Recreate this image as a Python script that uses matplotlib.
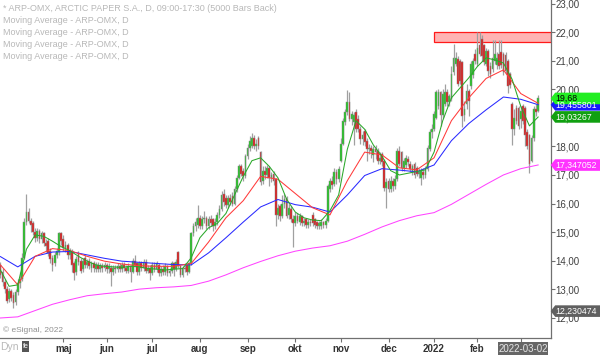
import numpy as np
import pandas as pd
import matplotlib
matplotlib.use("Agg")
import matplotlib.pyplot as plt
from matplotlib.patches import Polygon, Rectangle

plt.rcParams['font.family'] = ['Liberation Sans', 'DejaVu Sans']

# ---------------- data ----------------
start_date = "2021-03-19"
end_date = "2022-03-11"
holidays = ["2021-04-02", "2021-04-05", "2021-05-13", "2021-06-25",
            "2021-12-24", "2021-12-31", "2022-01-06"]

open_ = [
 13.85,13.60,13.25,13.00,12.65,12.95,12.80,12.55,12.90,13.20,
 13.35,14.10,15.35,15.70,15.40,15.30,15.00,14.80,15.05,14.75,
 14.95,14.60,14.70,14.35,14.10,13.90,14.20,14.30,14.95,14.75,
 14.45,14.55,14.20,14.35,13.90,13.60,14.25,14.00,13.70,14.10,
 13.85,14.00,13.75,13.90,13.70,13.85,13.70,13.80,13.75,13.85,
 13.70,13.75,13.60,13.75,13.70,13.80,13.70,13.85,13.75,13.65,
 13.80,13.60,14.00,13.90,13.60,13.90,13.75,13.95,13.65,13.75,
 13.55,13.85,13.70,13.85,13.55,13.70,13.60,13.80,13.55,13.65,
 13.90,13.70,14.30,13.80,13.50,13.75,13.85,13.60,13.90,14.95,
 15.20,15.25,15.50,15.20,15.45,15.50,15.20,15.45,15.45,15.20,
 15.35,15.60,15.80,16.35,16.20,15.95,16.20,16.25,16.00,16.50,
 16.90,17.30,17.15,16.95,17.65,17.95,18.00,18.30,18.00,18.30,
 17.80,16.80,17.15,17.00,17.25,16.90,17.05,16.85,15.60,15.90,
 15.55,16.00,16.20,15.60,15.80,15.45,15.30,15.55,15.35,15.55,
 15.30,15.45,15.25,15.35,15.60,15.45,15.35,15.20,15.20,15.35,
 15.25,15.40,16.50,16.80,16.70,17.10,16.85,17.50,18.10,18.85,
 19.20,19.55,18.95,18.85,19.20,18.95,18.60,18.25,18.55,18.20,
 17.90,17.95,17.70,17.90,17.85,17.50,17.75,17.50,16.55,16.80,
 16.50,16.80,16.60,16.85,17.85,17.80,17.25,17.35,17.55,17.40,
 17.10,17.40,17.25,17.05,16.90,17.10,17.00,17.20,17.90,18.50,
 18.60,19.00,19.40,19.90,19.10,19.50,19.90,19.55,19.65,20.60,
 20.90,21.05,21.00,20.95,19.10,19.50,19.95,20.10,20.50,21.25,
 20.90,21.55,21.75,21.55,20.90,21.35,20.80,20.70,21.00,20.85,
 21.25,21.30,21.25,21.20,21.00,20.55,19.50,18.60,19.35,19.35,
 18.95,19.40,19.35,18.50,18.40,17.50,18.30,19.30,19.25]
high = [
 13.95,13.75,13.35,13.10,13.05,13.00,12.90,13.00,13.35,13.60,
 14.25,15.50,16.33,15.85,15.50,15.40,15.15,15.15,15.10,15.05,
 15.00,14.75,14.80,14.45,14.20,14.30,14.45,15.00,15.00,14.90,
 14.70,14.60,14.45,14.40,14.00,14.15,14.35,14.10,14.10,14.20,
 14.05,14.10,14.00,14.00,13.95,13.95,13.90,13.90,13.95,13.90,
 13.90,13.85,13.85,13.85,13.90,13.90,13.95,13.95,13.85,13.90,
 13.85,14.10,14.20,13.95,14.00,14.00,14.05,14.05,13.85,13.85,
 13.95,13.95,14.00,13.90,13.80,13.85,13.90,13.85,13.75,14.00,
 13.95,14.05,14.35,13.85,13.80,13.90,13.90,13.95,15.00,15.30,
 15.50,15.95,15.60,15.55,15.75,15.55,15.55,15.60,15.50,15.50,
 15.70,15.95,16.45,16.50,16.30,16.30,16.35,16.40,16.60,17.00,
 17.40,17.40,17.25,17.75,18.10,18.35,18.48,18.40,18.25,18.35,
 17.85,17.30,17.30,17.35,17.30,17.10,17.15,16.90,16.00,16.00,
 16.30,16.35,16.25,16.00,15.90,15.60,15.70,15.65,15.65,15.60,
 15.50,15.50,15.45,15.45,15.70,15.50,15.40,15.40,15.45,15.40,
 15.50,16.70,16.90,16.95,17.25,17.20,17.30,18.28,19.00,19.30,
 19.98,19.90,19.25,19.20,19.30,19.10,18.70,18.55,18.60,18.30,
 18.10,18.05,18.00,18.05,17.95,17.80,17.80,17.55,16.90,16.90,
 16.95,16.90,17.00,17.95,18.00,17.85,17.60,17.70,17.65,17.50,
 17.40,17.45,17.30,17.25,17.25,17.25,17.30,18.05,18.60,18.80,
 19.25,19.98,20.00,19.95,20.00,20.20,20.00,19.85,20.80,21.60,
 21.30,21.15,21.05,21.00,19.60,20.20,20.00,21.00,21.10,21.40,
 22.00,22.00,21.90,21.60,21.45,21.40,20.95,21.73,21.73,21.30,
 21.73,21.73,21.30,21.30,21.05,20.60,19.55,19.30,19.45,19.40,
 19.40,19.50,19.40,18.60,18.45,18.40,19.40,19.50,19.80]
low = [
 13.40,13.10,12.85,12.50,12.55,12.60,12.33,12.45,12.80,13.05,
 13.30,14.05,15.25,15.30,15.00,14.90,14.65,14.70,14.60,14.60,
 14.50,14.30,14.15,13.90,13.65,13.80,14.10,14.20,14.55,14.35,
 14.30,14.05,14.05,13.60,13.32,13.50,13.85,13.55,13.60,13.75,
 13.75,13.70,13.60,13.60,13.60,13.60,13.60,13.60,13.65,13.55,
 13.55,13.10,13.50,13.55,13.60,13.60,13.60,13.65,13.55,13.55,
 13.26,13.55,13.80,13.50,13.50,13.65,13.65,13.55,13.55,13.32,
 13.50,13.60,13.60,13.45,13.45,13.50,13.50,13.45,13.45,13.55,
 13.45,13.65,13.75,13.42,13.42,13.60,13.50,13.55,13.85,14.85,
 15.05,15.15,15.10,15.10,15.30,15.10,15.10,15.20,15.05,15.10,
 15.25,15.50,15.75,15.90,15.85,15.85,15.95,15.90,15.95,16.40,
 16.85,16.95,16.80,16.90,17.55,17.85,17.95,17.90,17.85,17.90,
 16.65,16.70,16.85,16.90,16.60,16.75,16.65,15.20,15.45,15.40,
 15.50,15.85,15.50,15.45,15.35,14.49,15.20,15.30,15.25,15.20,
 15.20,15.15,15.15,15.20,15.20,15.15,15.10,15.10,15.10,15.15,
 15.15,15.35,16.40,16.50,16.60,16.70,16.75,17.45,18.05,18.75,
 19.10,18.90,18.75,18.05,18.50,18.50,18.10,18.05,18.00,17.50,
 17.75,17.60,17.45,17.55,17.40,17.40,17.30,16.45,15.83,16.40,
 16.40,16.45,16.50,16.80,17.30,17.15,17.15,17.25,17.30,17.10,
 17.00,16.90,16.95,16.90,16.65,16.85,16.90,17.15,17.85,18.30,
 18.55,18.95,19.30,18.70,19.00,19.40,19.40,19.40,19.60,20.50,
 20.80,20.10,20.20,18.69,18.90,19.30,19.05,20.00,20.40,20.90,
 20.80,21.15,21.00,20.85,20.80,20.45,20.40,20.60,20.90,20.70,
 20.70,20.75,20.50,20.55,19.86,20.05,18.05,18.40,18.80,18.60,
 18.65,18.80,18.00,17.90,17.06,17.45,18.20,19.05,19.20]
close = [
 13.50,13.25,13.00,12.60,12.95,12.70,12.50,12.90,13.20,13.35,
 14.10,15.35,15.70,15.40,15.25,15.00,14.80,15.05,14.75,14.95,
 14.60,14.50,14.25,14.05,13.85,14.20,14.35,14.95,14.70,14.45,
 14.55,14.20,14.35,13.85,13.55,14.05,13.95,13.65,14.00,13.85,
 13.95,13.80,13.90,13.75,13.85,13.70,13.80,13.75,13.85,13.70,
 13.80,13.60,13.75,13.70,13.80,13.70,13.85,13.75,13.65,13.80,
 13.60,14.00,13.85,13.60,13.90,13.75,13.95,13.65,13.75,13.55,
 13.85,13.70,13.90,13.55,13.70,13.60,13.80,13.55,13.65,13.90,
 13.70,13.95,13.80,13.50,13.75,13.70,13.60,13.90,14.95,15.20,
 15.35,15.50,15.20,15.45,15.50,15.20,15.45,15.30,15.20,15.35,
 15.60,15.80,16.30,16.05,15.95,16.20,16.05,16.00,16.50,16.90,
 17.30,17.05,16.95,17.65,17.95,18.20,18.30,18.00,18.10,18.00,
 16.75,17.15,17.00,17.25,16.90,17.00,16.80,15.60,15.85,15.55,
 16.00,16.15,15.55,15.85,15.45,15.30,15.55,15.40,15.55,15.30,
 15.40,15.25,15.35,15.30,15.30,15.25,15.20,15.30,15.35,15.25,
 15.40,16.60,16.80,16.65,17.10,16.85,17.20,18.10,18.90,19.20,
 19.55,18.95,19.15,19.10,18.60,18.60,18.25,18.40,18.15,17.90,
 17.95,17.85,17.90,17.80,17.50,17.60,17.45,16.55,16.75,16.50,
 16.80,16.60,16.85,17.85,17.40,17.25,17.50,17.60,17.45,17.20,
 17.30,17.00,17.05,17.10,17.15,17.00,17.20,17.95,18.50,18.60,
 19.15,19.90,19.90,19.10,19.85,19.90,19.55,19.75,20.55,21.10,
 21.10,20.20,20.30,19.05,19.30,19.95,19.60,20.90,21.00,21.00,
 21.45,21.25,21.15,20.95,21.35,20.65,20.55,21.10,21.25,21.10,
 20.80,20.85,20.60,20.65,20.10,20.15,18.60,19.00,18.90,18.70,
 19.25,18.90,18.40,18.00,17.40,18.30,19.30,19.20,19.68]

# moving averages (one value every 8 bars / 4 bars for the short one)
ma_magenta = [11.99,12.03,12.25,12.47,12.63,12.77,12.84,12.90,13.00,13.05,
              13.08,13.13,13.28,13.50,13.75,13.97,14.17,14.33,14.44,14.52,
              14.68,14.92,15.18,15.40,15.57,15.68,15.97,16.32,16.67,17.00,
              17.22,17.35]
ma_blue = [14.14,13.78,14.15,14.30,14.32,14.20,14.08,13.98,13.94,13.90,
           13.86,13.85,14.27,14.80,15.35,15.88,16.14,15.96,15.87,15.70,
           16.30,16.98,17.22,17.17,17.11,17.35,18.20,18.80,19.28,19.73,
           19.65,19.46]
ma_red = [13.85,13.15,14.15,14.42,14.35,14.15,13.98,13.88,13.82,13.80,
          13.80,13.90,14.65,15.50,16.10,16.95,16.85,16.35,15.85,15.60,
          16.80,17.80,17.70,17.25,17.18,17.60,18.90,19.70,20.38,20.68,
          19.85,19.51]
ma_green = [13.67,13.10,13.15,14.40,14.90,14.85,14.68,14.49,14.35,14.15,
            13.98,13.85,13.80,13.78,13.76,13.80,13.78,13.72,13.70,13.67,
            13.70,13.72,14.10,14.80,15.15,15.30,15.65,16.30,16.95,17.50,
            17.60,17.30,16.90,16.15,15.70,15.50,15.42,15.40,15.75,16.30,
            17.90,18.90,18.60,18.05,17.65,17.15,17.00,17.06,17.12,17.18,
            17.80,18.90,19.70,20.05,20.40,20.80,21.10,21.03,20.92,20.35,
            19.40,18.72,19.03]

zone_low, zone_high = 21.65, 22.02
zone_start = "2022-01-03"

month_tick_dates = ["2021-05-03", "2021-06-01", "2021-07-01", "2021-08-02", "2021-09-01",
                    "2021-10-01", "2021-11-01", "2021-12-01", "2022-01-03", "2022-02-01",
                    "2022-03-01"]
# the March label is hidden under the cursor-date box in the reference
month_tick_labels = ["maj", "jun", "jul", "aug", "sep", "okt", "nov", "dec", "2022", "feb", ""]

yticks = [12, 13, 14, 15, 16, 17, 18, 19, 20, 21, 22, 23]

tag_values = [12.230474, 17.347052, 19.03267, 19.455801, 19.68]
tag_texts = ["12,230474", "17,347052", "19,03267", "19,455801", "19,68"]
tag_colors = ["#606060", "#ff33ff", "#10a010", "#1818ff", "#22ee22"]
tag_textcolors = ["white", "white", "white", "white", "black"]

legend_lines = ["* ARP-OMX, ARCTIC PAPER S.A., D, 09:00-17:30 (5000 Bars Back)",
                "Moving Average - ARP-OMX, D", "Moving Average - ARP-OMX, D",
                "Moving Average - ARP-OMX, D", "Moving Average - ARP-OMX, D"]
cursor_date = "2022-03-02"

# ---------------- figure ----------------
W, H = 600, 355
fig = plt.figure(figsize=(W / 100, H / 100), dpi=100)
ax = fig.add_axes([0, 17 / H, 550.7 / W, 338 / H])

dates = pd.bdate_range(start_date, end_date, freq="C", holidays=holidays)
x = np.arange(len(dates))
o = np.array(open_); h = np.array(high); l = np.array(low); c = np.array(close)
assert len(o) == len(h) == len(l) == len(c) == len(dates)

ax.set_xlim(-0.2, 253.8)
ax.set_ylim(11.289, 23.128)

# resistance zone
zs = dates.get_loc(pd.Timestamp(zone_start))
ax.add_patch(Rectangle((zs, zone_low), 253.8 - zs, zone_high - zone_low,
                       facecolor="#ffb3b3", edgecolor="#ff1a1a", lw=0.9, zorder=1))

# candles
up = c >= o
body_lo = np.minimum(o, c)
body_h = np.maximum(np.abs(c - o), 0.03)
ax.vlines(x, l, h, color="#a0a0a0", lw=0.9, zorder=2)
ax.bar(x[up], body_h[up], bottom=body_lo[up], width=0.8, color="#1ec81e",
       edgecolor="#8a8a8a", linewidth=0.35, zorder=3)
ax.bar(x[~up], body_h[~up], bottom=body_lo[~up], width=0.8, color="#e01818",
       edgecolor="#8a8a8a", linewidth=0.35, zorder=3)

# moving averages
ax.plot(x[::8], ma_magenta, color="#ff44ff", lw=0.75, zorder=4)
ax.plot(x[::8], ma_blue, color="#2a2aff", lw=0.75, zorder=4)
ax.plot(x[::8], ma_red, color="#ff3a3a", lw=0.75, zorder=4)
ax.plot(x[::4], ma_green, color="#2aa82a", lw=0.75, zorder=4)

# axes styling
for s in ["left", "top"]:
    ax.spines[s].set_visible(False)
for s in ["right", "bottom"]:
    ax.spines[s].set_color("#707070")
    ax.spines[s].set_linewidth(0.9)
ax.yaxis.tick_right()
ax.set_yticks(yticks)
ax.set_yticklabels([f"{v:.2f}".replace(".", ",") for v in yticks])
ax.tick_params(axis="y", length=2.6, width=0.8, color="#707070", pad=0.8,
               labelsize=7, labelcolor="#404040")
tick_pos = [dates.get_loc(pd.Timestamp(d)) for d in month_tick_dates]
ax.set_xticks(tick_pos)
ax.set_xticklabels(month_tick_labels, fontweight="bold")
ax.tick_params(axis="x", length=2.6, width=0.8, color="#707070", pad=2,
               labelsize=7, labelcolor="#333333")
ax.set_facecolor("white")

# overlay in pixel coordinates
ov = fig.add_axes([0, 0, 1, 1], zorder=10)
ov.set_xlim(0, W)
ov.set_ylim(H, 0)
ov.axis("off")
ov.patch.set_alpha(0)

def ypix(v):
    return H - ax.transData.transform((0, v))[1]

ax_right = 550.7
th = 5.8
for v, t, fc, tc in zip(tag_values, tag_texts, tag_colors, tag_textcolors):
    yp = ypix(v)
    ov.add_patch(Polygon([(ax_right, yp), (ax_right + 4.5, yp - th), (W, yp - th),
                          (W, yp + th), (ax_right + 4.5, yp + th)], closed=True,
                         facecolor=fc, edgecolor="none"))
    ov.text(ax_right + 4.8, yp + 0.3, t, color=tc, fontsize=6.3, va="center", ha="left")

# legend texts
for k, t in enumerate(legend_lines):
    ov.text(3, 8.3 + 12.1 * k, t, color="#b8b8b8", fontsize=6.5, va="center", ha="left")

# cursor date box
cd = dates.get_loc(pd.Timestamp(cursor_date))
cx = ax.transData.transform((cd, 0))[0]
ov.add_patch(Rectangle((cx - 25.3, 342), 50.6, 14, facecolor="#666666", edgecolor="none"))
ov.text(cx, 348.8, cursor_date, color="#e6e6e6", fontsize=7, ha="center", va="center")

# watermark & bottom-left widgets
ov.text(3, 330.5, "\u00a9 eSignal, 2022", color="#909090", fontsize=6, va="center", ha="left")
ov.text(0, 347, "Dyn", color="#b8b8b8", fontsize=7.5, va="center", ha="left")
ov.add_patch(Rectangle((21.7, 341), 7.6, 11, facecolor="#555555", edgecolor="none"))
ov.text(25.5, 346.5, "fe", color="white", fontsize=5, ha="center", va="center")

fig.savefig("out.png", dpi=100)
